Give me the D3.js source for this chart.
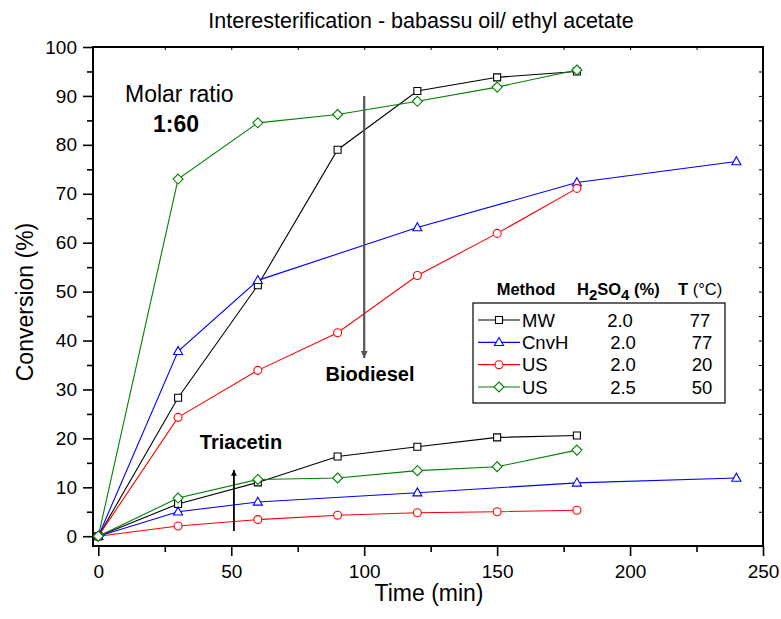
<!DOCTYPE html>
<html>
<head>
<meta charset="utf-8">
<script src="https://cdn.jsdelivr.net/npm/d3@7"></script>
<style>
  body { margin: 0; background: #fff; }
  svg text { font-family: "Liberation Sans", Arial, sans-serif; }
</style>
</head>
<body>
<svg id="chart" width="781" height="619"></svg>
<script>
// data
var times = [0, 30, 60, 90, 120, 150, 180];
var timesCnvH = [0, 30, 60, 120, 180, 240];

var bioMW    = [0, 28.3, 51.3, 79.0, 91.0, 93.8, 95.0];
var bioCnvH  = [0, 37.8, 52.3, 63.1, 72.3, 76.6];
var bioUS20  = [0, 24.3, 33.9, 41.6, 53.3, 61.9, 71.1];
var bioUS50  = [0, 73.0, 84.5, 86.2, 88.9, 91.8, 95.3];

var triMW    = [0, 6.6, 11.0, 16.3, 18.3, 20.2, 20.6];
var triCnvH  = [0, 5.0, 7.0, 8.9, 10.9, 11.9];
var triUS20  = [0, 2.1, 3.4, 4.3, 4.8, 5.0, 5.3];
var triUS50  = [0, 7.8, 11.6, 11.9, 13.4, 14.2, 17.6];

var methods = ["MW", "CnvH", "US", "US"];
var acid    = ["2.0", "2.0", "2.0", "2.5"];
var temps   = ["77", "77", "20", "50"];
var colors  = ["#000000", "#0000ff", "#ff0000", "#008000"];
var symbols = ["square", "triangle", "circle", "diamond"];

var xTicks = [0, 50, 100, 150, 200, 250];
var yTicks = [0, 10, 20, 30, 40, 50, 60, 70, 80, 90, 100];

var chart = d3.select("#chart");

var x = d3.scaleLinear().domain([-2, 250]).range([93, 763]);
var y = d3.scaleLinear().domain([-2, 100]).range([546, 47]);

// frame
chart.append("rect")
    .attr("x", 93).attr("y", 47)
    .attr("width", 670).attr("height", 499)
    .attr("fill", "none").attr("stroke", "#000").attr("stroke-width", 2);

// bottom axis
var xAxis = d3.axisBottom(x).tickValues(xTicks).tickSize(10).tickPadding(9).tickFormat(d3.format("d"));
var xg = chart.append("g").attr("transform", "translate(0,546)").call(xAxis);
xg.selectAll("text").style("font-size", "19px");
xg.selectAll("line").attr("stroke-width", 1.6);
chart.append("g").attr("transform", "translate(0,546)")
    .call(d3.axisBottom(x).tickValues([25, 75, 125, 175, 225]).tickSize(6).tickFormat(""))
    .selectAll("line").attr("stroke-width", 1.6);

// left axis
var yAxis = d3.axisLeft(y).tickValues(yTicks).tickSize(10).tickPadding(6);
var yg = chart.append("g").attr("transform", "translate(93,0)").call(yAxis);
yg.selectAll("text").style("font-size", "19px");
yg.selectAll("line").attr("stroke-width", 1.6);
chart.append("g").attr("transform", "translate(93,0)")
    .call(d3.axisLeft(y).tickValues(d3.range(5, 100, 10)).tickSize(6).tickFormat(""))
    .selectAll("line").attr("stroke-width", 1.6);

// inner ticks on top and right
chart.append("g").attr("transform", "translate(0,47)")
    .call(d3.axisBottom(x).tickValues(d3.range(25, 250, 25)).tickSize(3).tickFormat(""));
chart.append("g").attr("transform", "translate(763,0)")
    .call(d3.axisLeft(y).tickValues(d3.range(5, 100, 5)).tickSize(4).tickFormat(""));
chart.selectAll(".domain").remove();

// titles
chart.append("text")
    .text("Interesterification - babassu oil/ ethyl acetate")
    .attr("x", 421).attr("y", 28)
    .style("font-size", "21.5px")
    .style("text-anchor", "middle");

chart.append("text")
    .text("Time (min)")
    .attr("x", 429).attr("y", 601)
    .style("font-size", "23px")
    .style("text-anchor", "middle");

chart.append("text")
    .text("Conversion (%)")
    .attr("transform", "rotate(-90)")
    .attr("x", -302).attr("y", 33)
    .style("font-size", "23px")
    .style("text-anchor", "middle");

// series
var line = d3.line()
    .x(function(d) { return x(d[0]); })
    .y(function(d) { return y(d[1]); });

function symbolPath(type) {
    if (type == "square") return "M-3.5,-3.5H3.5V3.5H-3.5Z";
    if (type == "triangle") return "M0,-4.8L4.5,3.2H-4.5Z";
    if (type == "circle") return d3.symbol().type(d3.symbolCircle).size(50)();
    return "M0,-5L5,0L0,5L-5,0Z";
}

var series = [
    { t: times, v: bioMW, i: 0 }, { t: timesCnvH, v: bioCnvH, i: 1 },
    { t: times, v: bioUS20, i: 2 }, { t: times, v: bioUS50, i: 3 },
    { t: times, v: triMW, i: 0 }, { t: timesCnvH, v: triCnvH, i: 1 },
    { t: times, v: triUS20, i: 2 }, { t: times, v: triUS50, i: 3 }
];

series.forEach(function(s) {
    var pts = s.t.map(function(t, k) { return [t, s.v[k]]; });
    chart.append("path")
        .datum(pts)
        .attr("d", line)
        .attr("fill", "none")
        .attr("stroke", colors[s.i])
        .attr("stroke-width", 1.1);
    chart.selectAll(null)
        .data(pts)
        .enter()
        .append("path")
        .attr("d", symbolPath(symbols[s.i]))
        .attr("transform", function(d) { return "translate(" + x(d[0]) + "," + y(d[1]) + ")"; })
        .attr("fill", "#fff")
        .attr("stroke", colors[s.i])
        .attr("stroke-width", 1.1);
});

// arrows
chart.append("defs").append("marker")
    .attr("id", "head")
    .attr("viewBox", "0 0 10 10")
    .attr("refX", 10).attr("refY", 5)
    .attr("markerWidth", 4.5).attr("markerHeight", 3.2)
    .attr("markerUnits", "strokeWidth")
    .attr("orient", "auto")
    .append("path").attr("d", "M0,0L10,5L0,10Z").attr("fill", "context-stroke");

chart.append("line")
    .attr("x1", x(100)).attr("x2", x(100))
    .attr("y1", 96).attr("y2", 358)
    .attr("stroke", "#555").attr("stroke-width", 2.2)
    .attr("marker-end", "url(#head)");
chart.append("line")
    .attr("x1", x(51)).attr("x2", x(51))
    .attr("y1", 531).attr("y2", 470)
    .attr("stroke", "#000").attr("stroke-width", 1.8)
    .attr("marker-end", "url(#head)");

chart.append("text").text("Biodiesel")
    .attr("x", 370).attr("y", 381)
    .style("font-size", "20px").style("font-weight", "bold")
    .style("text-anchor", "middle");
chart.append("text").text("Triacetin")
    .attr("x", 241).attr("y", 449)
    .style("font-size", "20px").style("font-weight", "bold")
    .style("text-anchor", "middle");
chart.append("text").text("Molar ratio")
    .attr("x", 125).attr("y", 102)
    .style("font-size", "23px");
chart.append("text").text("1:60")
    .attr("x", 153).attr("y", 132)
    .style("font-size", "23px").style("font-weight", "bold");

// legend
var lg = chart.append("g");
lg.append("rect")
    .attr("x", 473).attr("y", 303)
    .attr("width", 252).attr("height", 100)
    .attr("fill", "#fff").attr("stroke", "#000").attr("stroke-width", 1.2);

lg.append("text").text("Method")
    .attr("x", 526).attr("y", 295)
    .style("font-size", "16.5px").style("font-weight", "bold")
    .style("text-anchor", "middle");
var h = lg.append("text")
    .attr("x", 577).attr("y", 295)
    .style("font-size", "16.5px").style("font-weight", "bold");
h.append("tspan").text("H");
h.append("tspan").text("2").attr("dy", 5).style("font-size", "15px");
h.append("tspan").text("SO").attr("dy", -5);
h.append("tspan").text("4").attr("dy", 5).style("font-size", "15px");
h.append("tspan").text(" (%)").attr("dy", -5);
var tt = lg.append("text")
    .attr("x", 678).attr("y", 295)
    .style("font-size", "16.5px");
tt.append("tspan").text("T").style("font-weight", "bold");
tt.append("tspan").text(" (°C)");

var rowY = d3.scaleLinear().domain([0, 3]).range([320, 387]);
methods.forEach(function(m, i) {
    var yy = rowY(i);
    lg.append("line")
        .attr("x1", 478).attr("x2", 520)
        .attr("y1", yy).attr("y2", yy)
        .attr("stroke", colors[i]).attr("stroke-width", 1.1);
    lg.append("path")
        .attr("d", symbolPath(symbols[i]))
        .attr("transform", "translate(499," + yy + ")")
        .attr("fill", "#fff").attr("stroke", colors[i]).attr("stroke-width", 1.1);
    lg.append("text").text(m)
        .attr("x", 522).attr("y", yy + 6.5)
        .style("font-size", "18.5px");
    lg.append("text").text(acid[i])
        .attr("x", i == 0 ? 620 : 623).attr("y", yy + 6.5)
        .style("font-size", "18.5px").style("text-anchor", "middle");
    lg.append("text").text(temps[i])
        .attr("x", i == 0 ? 700 : 702).attr("y", yy + 6.5)
        .style("font-size", "18.5px").style("text-anchor", "middle");
});
</script>
</body>
</html>
